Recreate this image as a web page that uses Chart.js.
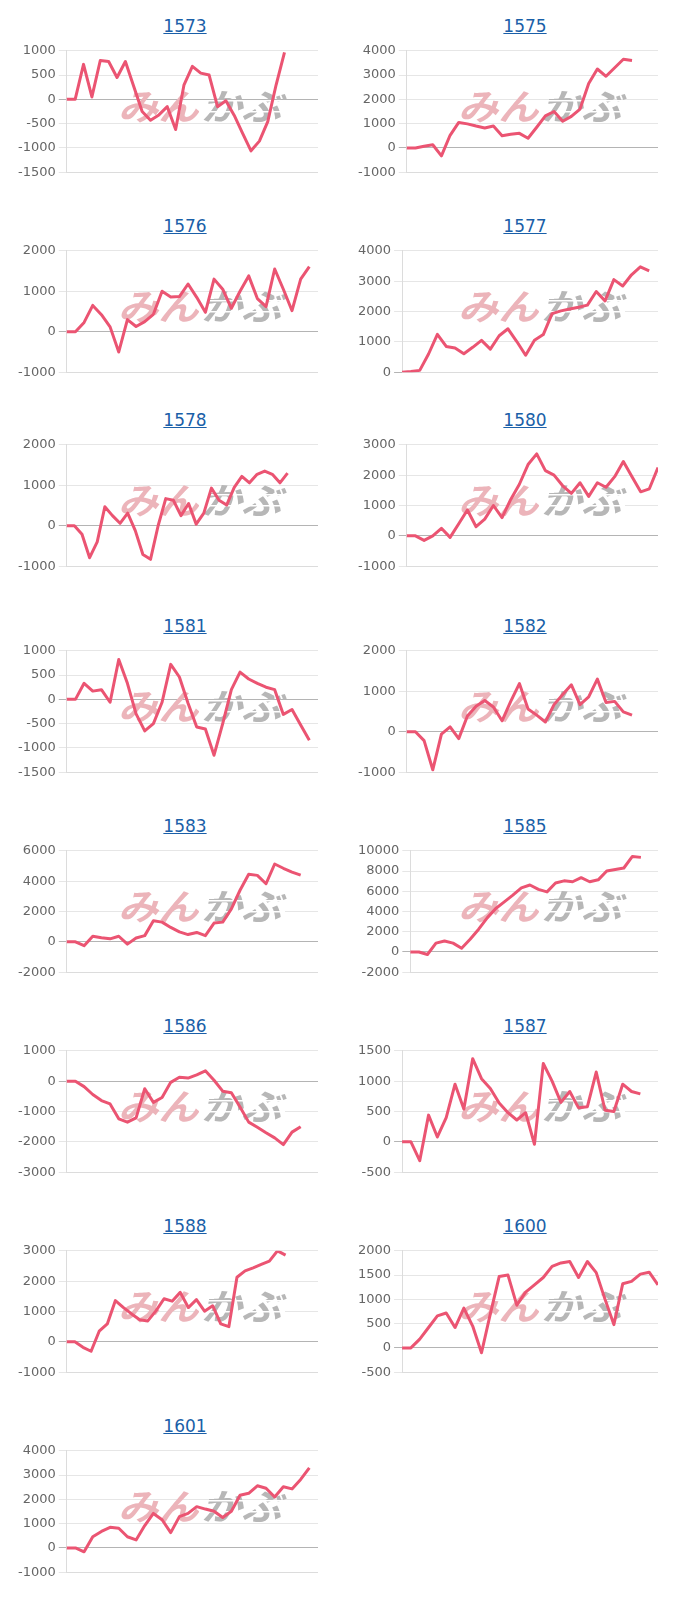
<!DOCTYPE html>
<html>
<head>
<meta charset="utf-8">
<script src="https://cdn.jsdelivr.net/npm/chart.js@4.4.1/dist/chart.umd.min.js"></script>
<style>
  body { margin:0; background:#fff; font-family:"DejaVu Sans", sans-serif; }
  #grid { display:grid; grid-template-columns:340px 340px; padding-left:15px; }
  .cell { position:relative; height:200px; padding-top:14px; box-sizing:border-box; }
  .cell.up { top:-6px; }
  .ttl { height:24px; line-height:24px; text-align:center; font-size:17px; }
  .ttl a { color:#1a5fa8; text-decoration:underline; }
  .box { position:relative; width:303px; height:143px; margin-top:2px; }
</style>
</head>
<body>
<div id="grid"></div>
<script>
// ── Data ────────────────────────────────────────────────────────────────────
const weeks = ['w1','w2','w3','w4','w5','w6','w7','w8','w9','w10','w11','w12','w13','w14','w15','w16','w17',
               'w18','w19','w20','w21','w22','w23','w24','w25','w26','w27','w28','w29','w30','w31','w32','w33','w34'];

const codes = ['1573','1575','1576','1577','1578','1580','1581','1582','1583','1585','1586','1587','1588','1600','1601'];

const s1573 = [0,0,720,50,800,780,450,780,265,-250,-430,-320,-150,-620,300,680,540,500,-150,-30,-330,-700,-1060,-860,-460,300,970];
const s1575 = [0,0,70,130,-330,520,1050,990,900,820,900,500,560,600,400,850,1320,1500,1100,1300,1600,2650,3250,2950,3300,3650,3600];
const s1576 = [0,0,230,650,420,120,-500,300,130,250,430,1000,860,870,1180,850,480,1300,1050,580,1000,1380,820,620,1550,1050,520,1300,1610];
const s1577 = [0,20,60,600,1250,850,800,610,820,1050,760,1200,1430,1010,560,1050,1240,1930,2020,2080,2140,2210,2660,2350,3050,2840,3210,3470,3340];
const s1578 = [0,0,-210,-790,-400,470,250,60,310,-120,-710,-830,0,670,630,250,550,40,310,930,630,510,950,1220,1060,1270,1350,1270,1060,1300];
const s1580 = [0,0,-150,0,250,-50,400,850,300,550,1000,600,1200,1700,2350,2700,2150,2000,1650,1400,1750,1300,1750,1600,1950,2450,1950,1450,1550,2250];
const s1581 = [0,0,330,170,200,-60,820,330,-300,-650,-500,-60,720,460,-80,-570,-610,-1150,-500,200,560,420,330,250,200,-310,-210,-530,-840];
const s1582 = [0,0,-220,-940,-60,120,-170,390,630,770,610,270,750,1190,560,410,240,670,920,1160,670,860,1300,720,750,490,410];
const s1583 = [0,0,-250,370,270,200,370,-150,250,410,1390,1300,950,660,480,620,410,1240,1300,2170,3400,4450,4380,3830,5130,4850,4600,4400];
const s1585 = [0,0,-250,870,1090,870,370,1250,2250,3370,4300,4950,5620,6340,6620,6190,5940,6810,7030,6940,7340,6940,7130,8000,8150,8300,9440,9350];
const s1586 = [0,0,-180,-440,-640,-750,-1240,-1350,-1210,-250,-700,-540,-40,130,100,210,340,30,-330,-380,-850,-1350,-1520,-1700,-1870,-2090,-1680,-1500];
const s1587 = [0,0,-310,440,80,400,950,540,1370,1040,880,640,480,360,480,-40,1290,1000,650,830,560,580,1150,520,500,950,830,790];
const s1588 = [0,0,-180,-310,350,590,1360,1130,920,730,690,1020,1420,1340,1630,1130,1390,1010,1190,590,500,2130,2340,2440,2550,2660,3000,2860];
const s1600 = [0,0,180,420,660,720,420,820,450,-100,700,1470,1500,880,1150,1300,1450,1680,1750,1780,1450,1780,1550,1000,480,1320,1370,1520,1560,1300];
const s1601 = [0,0,-160,460,680,850,810,460,330,920,1420,1160,630,1290,1420,1700,1600,1510,1250,1510,2170,2250,2560,2460,2100,2520,2430,2820,3300];

const series = [s1573,s1575,s1576,s1577,s1578,s1580,s1581,s1582,s1583,s1585,s1586,s1587,s1588,s1600,s1601];
const slots = [31,30,30,30,34,30,30,30,30,30,30,30,32,30,30];   // x categories per chart
const yMin  = [-1500,-1000,-1000,0,-1000,-1000,-1500,-1000,-2000,-2000,-3000,-500,-1000,-500,-1000];
const yMax  = [1000,4000,2000,4000,2000,3000,1000,2000,6000,10000,1000,1500,3000,2000,4000];
const yStep = [500,1000,1000,1000,1000,1000,500,1000,2000,2000,1000,500,1000,500,1000];

// ── Watermark (logo drawn behind the line) ───────────────────────────────────
const logoWord = (c, txt, x, y, color) => {
  c.save();
  c.translate(x, y);
  c.scale(1.12, 1);
  c.fillStyle = color;
  c.fillText(txt, 0, 0);
  c.restore();
};
const watermark = {
  id:'watermark',
  beforeDatasetsDraw(chart) {
    const c = chart.ctx;
    c.save();
    c.font = 'italic bold 36px "Noto Sans CJK JP"';
    c.textBaseline = 'middle';
    logoWord(c, 'みん', 103, 66, '#ecb4ba');
    logoWord(c, 'かぶ', 186, 66, '#b7b7b7');
    // speed lines through the grey half
    c.fillStyle = '#fff';
    c.fillRect(184, 60, 86, 1.5);
    c.fillRect(184, 71, 86, 1.5);
    c.restore();
  }
};

// ── Chart factory ────────────────────────────────────────────────────────────
const mk = (i) => {
  const cell = document.createElement('div');
  cell.className = (i === 4 || i === 5) ? 'cell up' : 'cell';
  cell.innerHTML = `<div class="ttl"><a href="#">${codes[i]}</a></div><div class="box"><canvas></canvas></div>`;
  document.getElementById('grid').appendChild(cell);
  const el = cell.querySelector('canvas');
  new Chart(el.getContext('2d'), {
    type:'line',
    data:{ labels:weeks.slice(0, slots[i]), datasets:[{
      data:series[i], borderColor:'#eb5472', borderWidth:3, pointRadius:0,
      tension:0, fill:false, borderJoinStyle:'round'
    }]},
    options:{
      responsive:true, maintainAspectRatio:false, animation:false,
      layout:{ padding:0 },
      plugins:{ legend:{display:false}, tooltip:{enabled:false} },
      scales:{
        x:{ ticks:{display:false}, grid:{display:false}, border:{color:'#dcdcdc'} },
        y:{
          min:yMin[i], max:yMax[i],
          ticks:{ stepSize:yStep[i], color:'#666', font:{family:'DejaVu Sans', size:13}, callback:v=>String(v) },
          grid:{ color:c=>c.tick && c.tick.value===0 ? '#b4b4b4' : '#e6e6e6' },
          border:{ color:'#dcdcdc' }
        }
      }
    },
    plugins:[watermark]
  });
};

codes.forEach((_, i) => mk(i));
</script>
</body>
</html>
